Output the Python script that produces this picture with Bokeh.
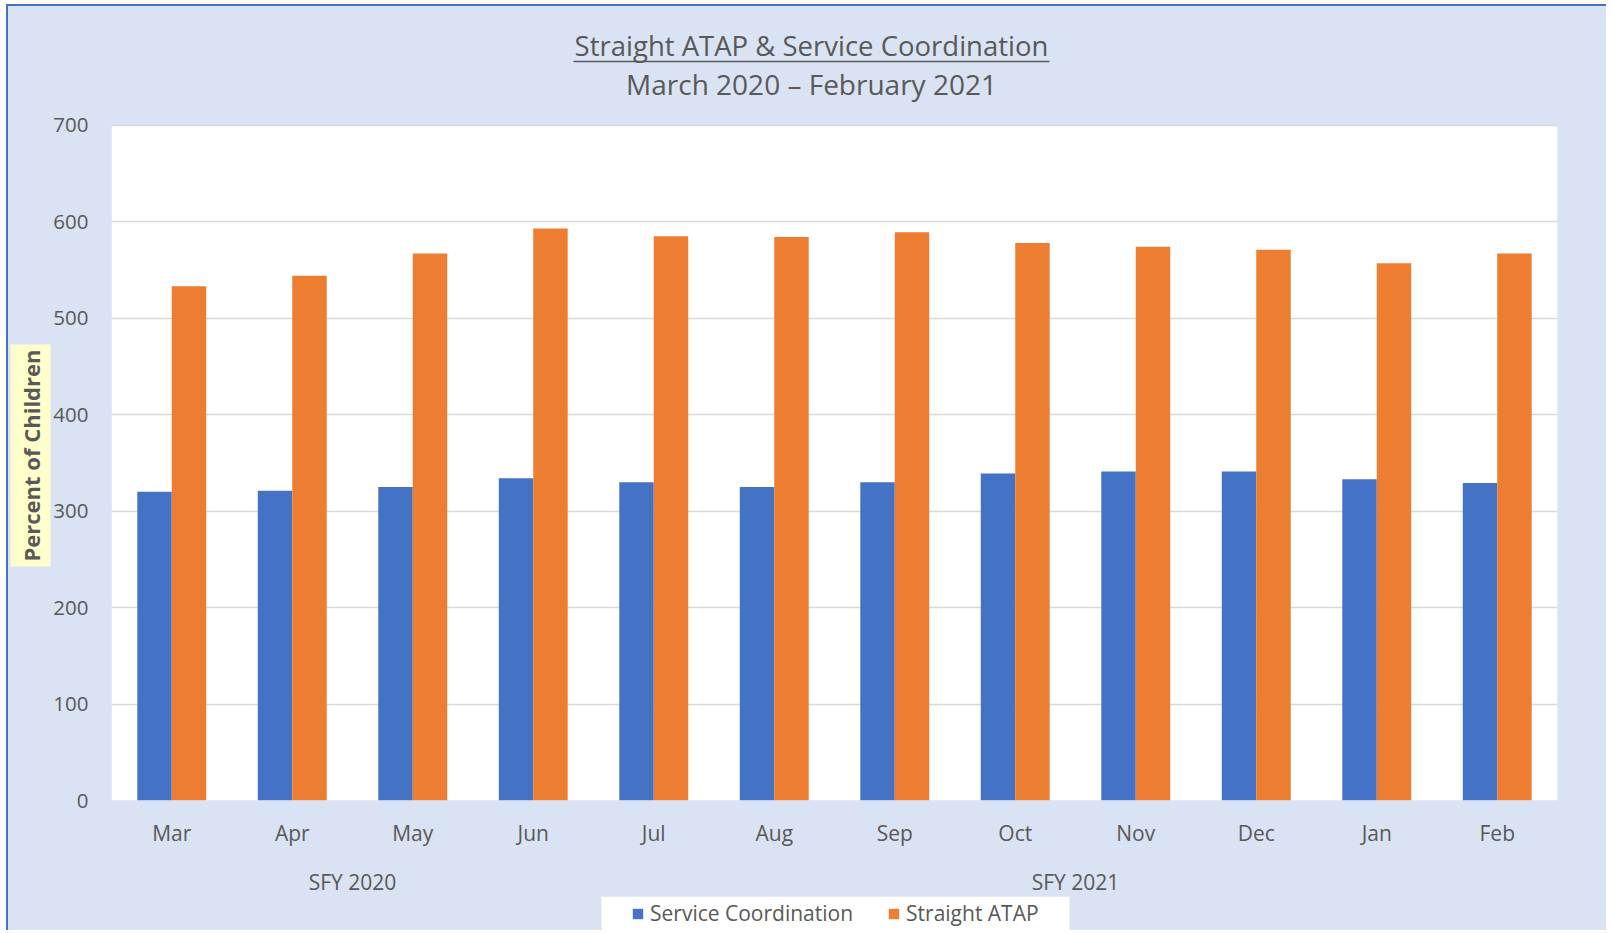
from bokeh.plotting import figure
from bokeh.layouts import column
from bokeh.models import (ColumnDataSource, FactorRange, Range1d, Legend, LegendItem,
                          Title, Label, BoxAnnotation, FixedTicker)
from bokeh.transform import dodge
from bokeh.embed import file_html
from bokeh.resources import INLINE

# ---- data ----
months = ["Mar", "Apr", "May", "Jun", "Jul", "Aug", "Sep", "Oct", "Nov", "Dec", "Jan", "Feb"]
fiscal_years = ["SFY 2020"] * 4 + ["SFY 2021"] * 8
service_coordination = [320, 321, 325, 334, 330, 325, 330, 339, 341, 341, 333, 329]
straight_atap = [533, 544, 567, 593, 585, 584, 589, 578, 574, 571, 557, 567]
y_ticks = [0, 100, 200, 300, 400, 500, 600, 700]
series_names = ["Service Coordination", "Straight ATAP"]
title_text = "Straight ATAP & Service Coordination"
subtitle_text = "March 2020 \u2013 February 2021"
y_label_text = "Percent of Children"

factors = list(zip(fiscal_years, months))
source = ColumnDataSource(dict(x=factors, sc=service_coordination, atap=straight_atap))

FONT = "Open Sans"
GREY = "#595959"
BG = "#dae3f3"
BLUE = "#4472c4"
ORANGE = "#ed7d31"
BORDER = "2px solid #4472c4"

# geometry: layout placed at page (6, 4), 2px border -> content at page (8, 6)
W = 1600
FRAME_H = 796                 # frame from page y 6 to 802
AXIS_H = 96                   # room for the two-level x axis
H_MAIN = FRAME_H + AXIS_H     # page y 6 .. 898
H_LEG = 34                    # page y 898 .. 932
PX_PER_UNIT = 677 / 700       # 0..700 spans 677 px
y_end = FRAME_H / PX_PER_UNIT


def yv(page_y):
    return (802 - page_y) / PX_PER_UNIT


def xv(page_x):
    return (page_x - 111) / 120.5


bw = 0.286

p = figure(width=W, height=H_MAIN,
           x_range=FactorRange(*factors, factor_padding=0, group_padding=0, range_padding=0),
           y_range=Range1d(0, y_end),
           output_backend="svg", toolbar_location=None,
           min_border_left=103, min_border_right=51, min_border_top=0,
           min_border_bottom=AXIS_H)
p.styles = {"border-left": BORDER, "border-top": BORDER}

p.background_fill_color = BG
p.border_fill_color = BG
p.outline_line_color = None

# white plotting area 0..700
white = BoxAnnotation(bottom=0, top=700, fill_color="white", fill_alpha=1,
                      line_color=None, level="underlay")
p.center = [white] + list(p.center)

p.vbar(x=dodge("x", -bw / 2, range=p.x_range), top="sc", width=bw, source=source,
       fill_color=BLUE, line_color=None)
p.vbar(x=dodge("x", bw / 2, range=p.x_range), top="atap", width=bw, source=source,
       fill_color=ORANGE, line_color=None)

# axes
p.yaxis.ticker = FixedTicker(ticks=y_ticks)
p.yaxis.axis_line_color = None
p.yaxis.major_tick_line_color = None
p.yaxis.minor_tick_line_color = None
p.yaxis.major_tick_out = 0
p.yaxis.major_tick_in = 0
p.yaxis.major_label_text_font = FONT
p.yaxis.major_label_text_font_size = "20.5px"
p.yaxis.major_label_text_color = GREY
p.yaxis.major_label_standoff = 23

p.xaxis.axis_line_color = None
p.xaxis.major_tick_line_color = None
p.xaxis.minor_tick_line_color = None
p.xaxis.major_tick_out = 0
p.xaxis.major_tick_in = 0
p.xaxis.major_label_text_font = FONT
p.xaxis.major_label_text_font_size = "21px"
p.xaxis.major_label_text_color = GREY
p.xaxis.group_text_font = FONT
p.xaxis.group_text_font_size = "21px"
p.xaxis.group_text_font_style = "normal"
p.xaxis.group_text_color = GREY
p.xaxis.separator_line_alpha = 0
p.xaxis.major_label_standoff = 18

p.xgrid.grid_line_color = None
p.ygrid.grid_line_color = "#d9d9d9"
p.ygrid.grid_line_width = 1.5

# titles (inside the upper part of the frame)
cx = xv(811)
p.add_layout(Label(x=cx, y=yv(45), text=title_text, text_align="center",
                   text_baseline="middle", text_font=FONT, text_font_size="27.5px",
                   text_color=GREY))
p.add_layout(Label(x=cx, y=yv(84), text=subtitle_text, text_align="center",
                   text_baseline="middle", text_font=FONT, text_font_size="28px",
                   text_color=GREY))
p.add_layout(BoxAnnotation(left=xv(573), right=xv(1049),
                           top=yv(60.5), bottom=yv(62), fill_color=GREY, fill_alpha=1,
                           line_color=None))

# y axis label with highlighted background, placed along the 0..700 area
ylab = Title(text=y_label_text, align="left", text_font=FONT, text_font_size="22px",
             text_font_style="bold", text_color=GREY, background_fill_color="#ffffcc",
             padding=5, standoff=0, offset=802 - 568)
p.add_layout(ylab, "left")

# ---- legend strip below the chart (frame aligned with the chart's frame) ----
lf = figure(width=W, height=H_LEG,
            x_range=FactorRange(*factors, factor_padding=0, group_padding=0, range_padding=0),
            y_range=Range1d(0, 1), x_axis_type=None, y_axis_type=None,
            output_backend="svg", toolbar_location=None,
            min_border_left=103, min_border_right=51, min_border_top=0, min_border_bottom=0)
lf.styles = {"border-left": BORDER}
lf.background_fill_color = BG
lf.border_fill_color = BG
lf.outline_line_color = None
lf.xgrid.visible = False
lf.ygrid.visible = False

lf.add_layout(BoxAnnotation(left=xv(601), right=xv(1069),
                            fill_color="white", fill_alpha=1, line_color=None,
                            level="underlay"))
lr1 = lf.vbar(x=dodge("x", -bw / 2, range=lf.x_range), top="sc", width=bw, source=source,
              fill_color=BLUE, line_color=None, visible=False)
lr2 = lf.vbar(x=dodge("x", bw / 2, range=lf.x_range), top="atap", width=bw, source=source,
              fill_color=ORANGE, line_color=None, visible=False)

legend = Legend(items=[LegendItem(label=series_names[0], renderers=[lr1]),
                       LegendItem(label=series_names[1], renderers=[lr2])],
                orientation="horizontal", location=(636 - 111 - 5, 3),
                background_fill_color="white", border_line_color=None,
                label_text_font=FONT, label_text_font_size="21px", label_text_color=GREY,
                glyph_width=13, glyph_height=13, label_standoff=6, spacing=34,
                padding=5, margin=0)
lf.add_layout(legend, "center")

layout = column(p, lf, spacing=0)
layout.styles = {"margin-left": "6px", "margin-top": "4px", "background-color": BG}
open("out.html", "w").write(file_html(layout, INLINE))
